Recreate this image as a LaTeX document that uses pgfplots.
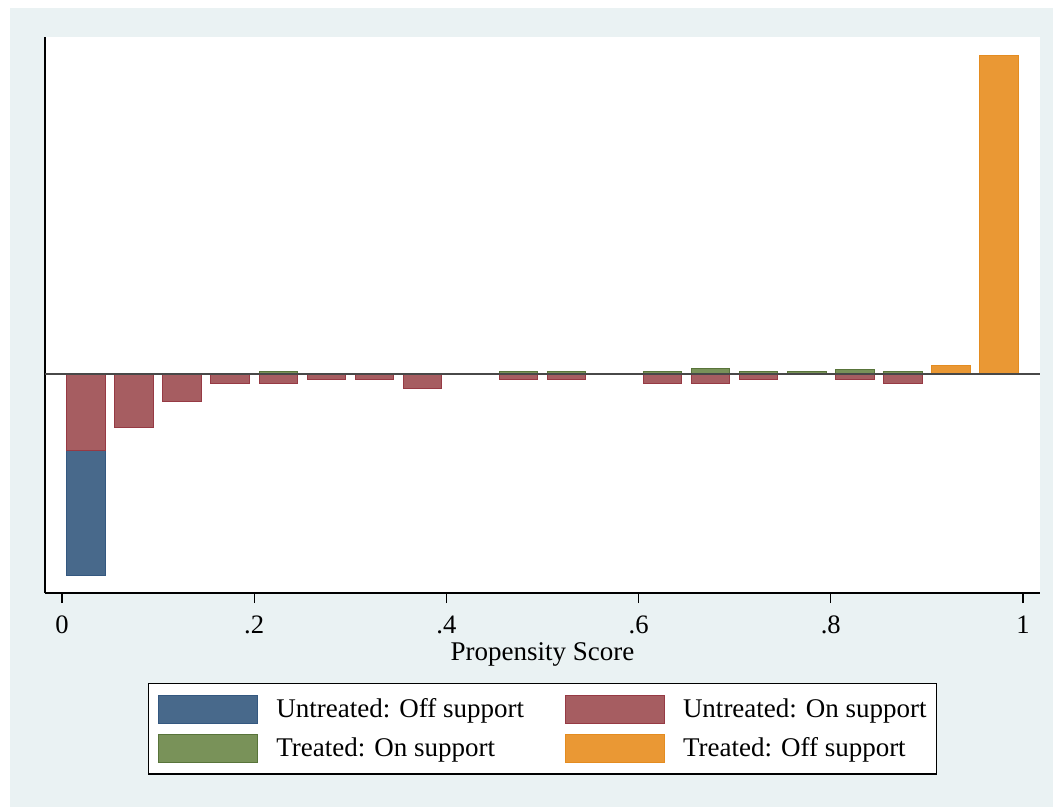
\documentclass[border=0pt]{standalone}
\usepackage{fontspec}
\setmainfont{Liberation Serif}
\usepackage{pgfplots}
\pgfplotsset{compat=1.18}

\definecolor{panelbg}{RGB}{234,242,243}
\definecolor{offU}{RGB}{72,105,139}
\definecolor{offUedge}{RGB}{52,88,128}
\definecolor{onU}{RGB}{166,93,97}
\definecolor{onUedge}{RGB}{150,58,68}
\definecolor{onT}{RGB}{121,146,89}
\definecolor{onTedge}{RGB}{88,116,58}
\definecolor{offT}{RGB}{234,152,52}
\definecolor{offTedge}{RGB}{228,140,32}
\definecolor{zeroline}{RGB}{72,72,72}

\begin{document}
\begin{tikzpicture}[x=1pt,y=1pt]
% page and graph region
\fill[white] (0,0) rectangle (526.5,-403.5);
\fill[panelbg] (5,-4) rectangle (526.5,-403.5);
\begin{axis}[
  at={(22.5pt,-296.5pt)}, anchor=south west,
  scale only axis, width=497.5pt, height=278pt,
  xmin=-0.0177, xmax=1.0177, ymin=-218.4, ymax=337,
  axis x line*=bottom, axis y line*=left,
  x axis line style={-}, y axis line style={-},
  axis line style={black, line width=0.8pt},
  axis background/.style={fill=white},
  ytick=\empty,
  xtick={0,0.2,0.4,0.6,0.8,1},
  xticklabels={0,.2,.4,.6,.8,1},
  tick align=outside, major tick length=5pt,
  tick style={black, line width=0.6pt},
  xticklabel style={font=\fontsize{13.3}{16}\selectfont, yshift=-3pt},
  xlabel={Propensity Score},
  xlabel style={font=\fontsize{13.5}{16}\selectfont, yshift=2.5pt},
  ybar, bar width=0.04, bar shift=0pt,
  legend image code/.code={\draw[#1, line width=0.5pt] (0pt,-7pt) rectangle (49.5pt,7pt);},
  legend columns=2,
  legend cell align=left,
  legend style={at={(0.5,0)}, anchor=north, yshift=-45pt,
    draw=black, line width=0.6pt, fill=white,
    inner xsep=4.8pt, inner ysep=5.6pt, row sep=5pt,
    font=\fontsize{13.5}{16}\selectfont,
    nodes={inner sep=0pt},
    /tikz/every odd column/.style={column sep=9pt},
    /tikz/every even column/.style={column sep=20.5pt}},
]
% untreated, off support
\addplot[fill=offU, draw=offUedge, line width=0.5pt] coordinates {
  (0.025,-201)
};
\addlegendentry{Untreated: Off support}
% untreated, on support
\addplot[fill=onU, draw=onUedge, line width=0.5pt] coordinates {
  (0.025,-76) (0.075,-53) (0.125,-27) (0.175,-9.5) (0.225,-9.5)
  (0.275,-5) (0.325,-5) (0.375,-14) (0.475,-5) (0.525,-5)
  (0.625,-9.5) (0.675,-9.5) (0.725,-5) (0.825,-5) (0.875,-9.5)
};
\addlegendentry{Untreated: On support}
% treated, on support
\addplot[fill=onT, draw=onTedge, line width=0.5pt] coordinates {
  (0.025,1.3) (0.125,1.3) (0.225,2.5) (0.375,1.3) (0.475,2.6)
  (0.525,2.6) (0.625,2.6) (0.675,6) (0.725,2.6) (0.775,3)
  (0.825,4.6) (0.875,3)
};
\addlegendentry{Treated: On support}
% treated, off support
\addplot[fill=offT, draw=offTedge, line width=0.5pt] coordinates {
  (0.925,9) (0.975,319)
};
\addlegendentry{Treated: Off support}
% zero line
\draw[zeroline, line width=1pt]
  ({rel axis cs:0,0}|-{axis cs:0,0}) -- ({rel axis cs:1,0}|-{axis cs:0,0});
\end{axis}
\end{tikzpicture}
\end{document}
